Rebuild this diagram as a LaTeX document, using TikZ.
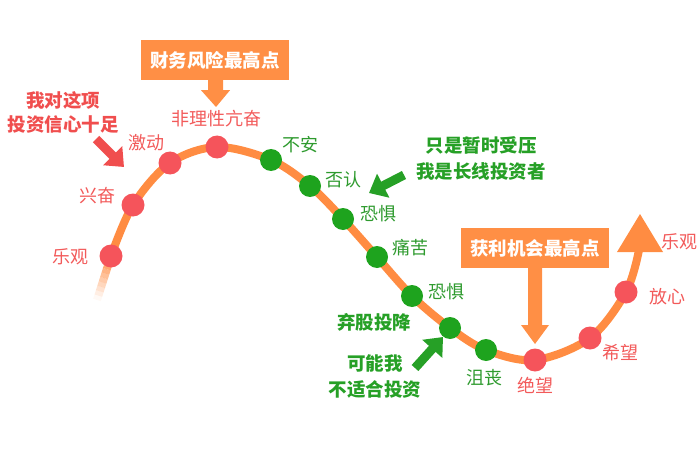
\documentclass[tikz,border=0pt]{standalone}
\usepackage{fontspec}
\setmainfont{Noto Sans CJK SC}
\usetikzlibrary{arrows.meta,calc}
\definecolor{curveor}{HTML}{FF8C42}
\definecolor{boxor}{HTML}{FF8F45}
\definecolor{dotred}{HTML}{F5545B}
\definecolor{dotgreen}{HTML}{1EA31E}
\definecolor{txtred}{HTML}{F25A5A}
\definecolor{txtgreen}{HTML}{2E9A2E}
\definecolor{boldgreen}{HTML}{26A026}
\definecolor{boldred}{HTML}{F04E4E}
\begin{document}
\begin{tikzpicture}[x=1pt,y=-1pt,
  reddot/.style={circle,fill=dotred,minimum size=23pt,inner sep=0pt},
  greendot/.style={circle,fill=dotgreen,minimum size=22pt,inner sep=0pt},
  redlbl/.style={text=txtred,font=\fontsize{18}{20}\selectfont,inner sep=0pt},
  greenlbl/.style={text=txtgreen,font=\fontsize{18}{20}\selectfont,inner sep=0pt},
  gnote/.style={text=boldgreen,font=\fontsize{18.5}{26}\selectfont\bfseries,align=center,inner sep=0pt},
  rnote/.style={text=boldred,font=\fontsize{18.5}{24}\selectfont\bfseries,align=center,inner sep=0pt},
  obox/.style={fill=boxor,text=white,font=\fontsize{18.5}{20}\selectfont\bfseries,minimum width=148pt,minimum height=40pt,inner sep=0pt},
  fatarrow/.style={line width=9pt,-{Triangle[length=16pt,width=26pt]}}
]
\useasboundingbox (0,0) rectangle (700,457);
% coordinates on curve
\coordinate (p0) at (111,256);
\coordinate (p1) at (133,205);
\coordinate (p2) at (170,163);
\coordinate (p3) at (217,147);
\coordinate (p4) at (271,160);
\coordinate (p5) at (310,186);
\coordinate (p6) at (343,219);
\coordinate (p7) at (377,257);
\coordinate (p8) at (412,296);
\coordinate (p9) at (450,328);
\coordinate (p10) at (486,350);
\coordinate (p11) at (535,360);
\coordinate (p12) at (590,338);
\coordinate (p13) at (626,292);
\coordinate (pend) at (639,250);
% faded tail
\foreach \i in {0,...,9}{
  \pgfmathsetmacro{\ta}{\i/10}
  \pgfmathsetmacro{\tb}{(\i+1)/10}
  \pgfmathsetmacro{\op}{(\i+0.5)/10}
  \draw[curveor,line width=8pt,opacity=\op] ($(97,300)!\ta!(p0)$) -- ($(97,300)!\tb!(p0)$);
}
% main curve
\draw[curveor,line width=8pt] plot[smooth,tension=0.55] coordinates {(p0) (p1) (p2) (p3) (p4) (p5) (p6) (p7) (p8) (p9) (p10) (p11) (p12) (p13) (pend)};
\fill[curveor] (640,214) -- (617,252) -- (663,252) -- cycle;
% dots
\node[reddot] (d0) at (p0) {};
\node[reddot] (d1) at (p1) {};
\node[reddot] (d2) at (p2) {};
\node[reddot] (d3) at (p3) {};
\node[greendot] (d4) at (p4) {};
\node[greendot] (d5) at (p5) {};
\node[greendot] (d6) at (p6) {};
\node[greendot] (d7) at (p7) {};
\node[greendot] (d8) at (p8) {};
\node[greendot] (d9) at (p9) {};
\node[greendot] (d10) at (p10) {};
\node[reddot] (d11) at (p11) {};
\node[reddot] (d12) at (p12) {};
\node[reddot] (d13) at (p13) {};
% labels
\node[redlbl] (l0) at (70,257) {乐观};
\node[redlbl] (l1) at (97,196) {兴奋};
\node[redlbl] (l2) at (146,143) {激动};
\node[redlbl] (l3) at (216,119) {非理性亢奋};
\node[greenlbl] (l4) at (300,145) {不安};
\node[greenlbl] (l5) at (343,180) {否认};
\node[greenlbl] (l6) at (378,214) {恐惧};
\node[greenlbl] (l7) at (410,248) {痛苦};
\node[greenlbl] (l8) at (446,292) {恐惧};
\node[gnote] (l9) at (374,322) {弃股投降};
\node[greenlbl] (l10) at (484,378) {沮丧};
\node[redlbl] (l11) at (535,385) {绝望};
\node[redlbl] (l12) at (620,353) {希望};
\node[redlbl] (l13) at (667,297) {放心};
\node[redlbl] (l14) at (679,242) {乐观};
% boxes
\node[obox] (b1) at (215,60) {财务风险最高点};
\fill[boxor] ($(b1.south)+(-7,0)$) -- ++(0,10) -- ++(-7,0) -- (216,107) -- ($(b1.south)+(15,10)$) -- ++(-7,0) -- ($(b1.south)+(8,0)$) -- cycle;
\node[obox] (b2) at (535,248) {获利机会最高点};
\fill[boxor] ($(b2.south)+(-7,0)$) -- (528,325) -- (521,325) -- (535,344) -- (549,325) -- (542,325) -- ($(b2.south)+(7,0)$) -- cycle;
% notes
\node[rnote] (n1) at (63,112) {我对这项\\投资信心十足};
\node[gnote] (n2) at (481,158) {只是暂时受压\\我是长线投资者};
\node[gnote] (n3) at (375,376) {可能我\\不适合投资};
% arrows
\coordinate (ra1) at (96,139);
\coordinate (ra2) at (124,167);
\draw[fatarrow,boldred] (ra1) -- (ra2);
\coordinate (ga1) at (404,175);
\coordinate (ga2) at (369,193);
\draw[fatarrow,boldgreen] (ga1) -- (ga2);
\coordinate (gb1) at (415,368);
\coordinate (gb2) at (443,337);
\draw[fatarrow,boldgreen] (gb1) -- (gb2);
\end{tikzpicture}
\end{document}
